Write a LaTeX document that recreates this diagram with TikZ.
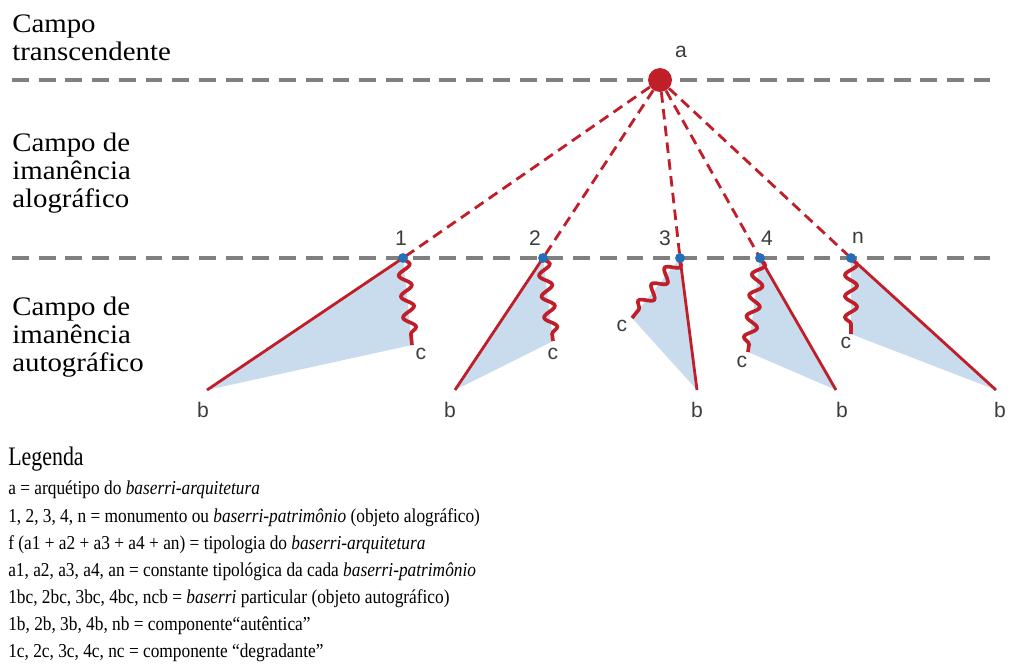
\documentclass[tikz,border=0pt]{standalone}
\usepackage{fontspec}
\setmainfont{Liberation Serif}
\newfontfamily\titlefont[FakeStretch=1.08]{Liberation Serif}
\newfontfamily\legendfont[FakeStretch=0.88]{Liberation Serif}
\newfontfamily\headfont[FakeStretch=0.82]{Liberation Serif}
\newfontfamily\labelfont{Liberation Sans}
\usetikzlibrary{positioning,decorations.pathmorphing}
\definecolor{baserriRed}{RGB}{192,30,40}
\definecolor{pointBlue}{RGB}{36,110,186}
\definecolor{shadeBlue}{RGB}{200,220,238}
\definecolor{fieldGray}{RGB}{128,128,128}
\definecolor{labelGray}{RGB}{60,60,60}

\begin{document}
\begin{tikzpicture}[
    x=0.025cm,y=-0.025cm,
    field/.style={draw=fieldGray,line width=2.8pt,dash pattern=on 12pt off 7pt},
    link/.style={draw=baserriRed,line width=2pt,dash pattern=on 7.5pt off 4.5pt},
    side/.style={draw=baserriRed,line width=2pt},
    decay/.style={draw=baserriRed,line width=2.6pt,decorate,decoration={snake,amplitude=4.3pt,segment length=15pt,post length=1pt}},
    shade/.style={fill=shadeBlue},
    dot/.style={circle,fill=pointBlue,inner sep=0pt,minimum size=7pt},
    tag/.style={font=\labelfont\fontsize{15}{15}\selectfont,text=labelGray,inner sep=0pt},
    title/.style={font=\titlefont\fontsize{19}{19.9}\selectfont,align=left,anchor=north west,inner sep=0pt}
  ]
    \useasboundingbox (0,0) rectangle (1010,664);

    % fields
    \coordinate (t0) at (12,80);
    \coordinate (t1) at (990,80);
    \coordinate (m0) at (12,258);
    \coordinate (m1) at (990,258);
    \draw[field] (t0) -- (t1);
    \draw[field] (m0) -- (m1);

    \node[title] (ttrans) at (12,15) {Campo\\transcendente};
    \node[title] (talo) at (12,133) {Campo de\\imanência\\alográfico};
    \node[title] (tauto) at (12,297) {Campo de\\imanência\\autográfico};

    % monuments
    \coordinate (p1) at (403,258);
    \coordinate (p2) at (543,258);
    \coordinate (p3) at (680,258);
    \coordinate (p4) at (760,258);
    \coordinate (pn) at (851,258);
    \coordinate (b1) at (207,390);
    \coordinate (b2) at (455,390);
    \coordinate (b3) at (697,390);
    \coordinate (b4) at (836,390);
    \coordinate (bn) at (996,390);
    \coordinate (c1) at (412,345);
    \coordinate (c2) at (553,341);
    \coordinate (c3) at (632,318);
    \coordinate (c4) at (748,352);
    \coordinate (cn) at (851,334);

    \fill[shade] (p1) -- (b1) -- (c1) -- cycle;
    \fill[shade] (p2) -- (b2) -- (c2) -- cycle;
    \fill[shade] (p3) -- (b3) -- (c3) -- cycle;
    \fill[shade] (p4) -- (b4) -- (c4) -- cycle;
    \fill[shade] (pn) -- (bn) -- (cn) -- cycle;

    \draw[side] (p1) -- (b1);
    \draw[side] (p2) -- (b2);
    \draw[side] (p3) -- (b3);
    \draw[side] (p4) -- (b4);
    \draw[side] (pn) -- (bn);

    \draw[decay] (p1) -- (c1);
    \draw[decay] (p2) -- (c2);
    \draw[decay] (p3) -- (c3);
    \draw[decay] (p4) -- (c4);
    \draw[decay] (pn) -- (cn);

    % archetype
    \node[circle,fill=baserriRed,inner sep=0pt,minimum size=17pt] (a) at (660,80) {};
    \node[tag] (la) at (681,52) {a};

    \draw[link] (a) -- (p1);
    \draw[link] (a) -- (p2);
    \draw[link] (a) -- (p3);
    \draw[link] (a) -- (p4);
    \draw[link] (a) -- (pn);

    \node[dot] (d1) at (p1) {};
    \node[dot] (d2) at (p2) {};
    \node[dot] (d3) at (p3) {};
    \node[dot] (d4) at (p4) {};
    \node[dot] (dn) at (pn) {};

    \node[tag] (l1) at (401,238) {1};
    \node[tag] (l2) at (535,238) {2};
    \node[tag] (l3) at (665,238) {3};
    \node[tag] (l4) at (767,238) {4};
    \node[tag] (ln) at (858,238) {n};

    \node[tag] (lb1) at (203,410) {b};
    \node[tag] (lb2) at (450,410) {b};
    \node[tag] (lb3) at (697,410) {b};
    \node[tag] (lb4) at (842,410) {b};
    \node[tag] (lbn) at (1000,410) {b};

    \node[tag] (lc1) at (421,354) {c};
    \node[tag] (lc2) at (553,354) {c};
    \node[tag] (lc3) at (622,326) {c};
    \node[tag] (lc4) at (742,362) {c};
    \node[tag] (lcn) at (846,343) {c};

    % legend
    \node[anchor=base west,inner sep=0pt,font=\headfont\fontsize{19}{20}\selectfont] (leg) at (8,465) {Legenda};
    \node[anchor=north west,inner sep=0pt,align=left,font=\legendfont\fontsize{14}{19.3}\selectfont] (legbody) at (8,481) {%
      a = arquétipo do \textit{baserri-arquitetura}\\
      1, 2, 3, 4, n = monumento ou \textit{baserri-patrimônio} (objeto alográfico)\\
      f (a1 + a2 + a3 + a4 + an) = tipologia do \textit{baserri-arquitetura}\\
      a1, a2, a3, a4, an = constante tipológica da cada \textit{baserri-patrimônio}\\
      1bc, 2bc, 3bc, 4bc, ncb = \textit{baserri} particular (objeto autográfico)\\
      1b, 2b, 3b, 4b, nb = componente“autêntica”\\
      1c, 2c, 3c, 4c, nc = componente “degradante”};
  \end{tikzpicture}
\end{document}
